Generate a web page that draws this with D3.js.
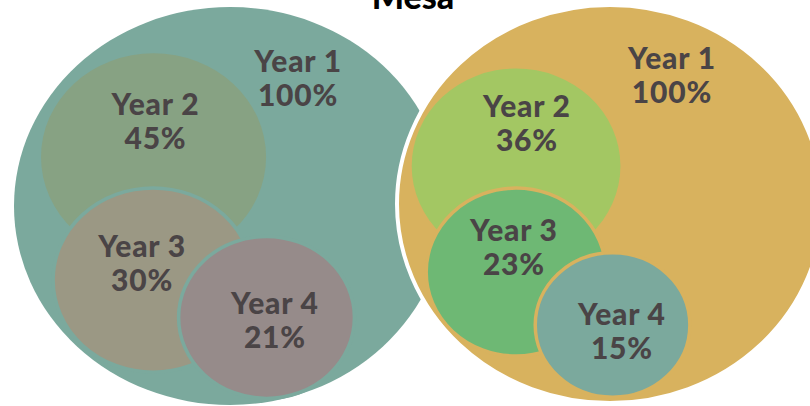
<!DOCTYPE html>
<html>
<head>
<meta charset="utf-8">
<script src="https://cdn.jsdelivr.net/npm/d3@7"></script>
<style>
  body { margin: 0; background: #fff; }
  svg { display: block; }
  text { font-family: Lato, "Open Sans", sans-serif; font-weight: 900; }
</style>
</head>
<body>
<div id="chart"></div>
<script>
const width = 810, height = 406;

// data
const title = "Mesa";
const years = ["Year 1", "Year 2", "Year 3", "Year 4"];
const leftValues = [100, 45, 30, 21];
const rightValues = [100, 36, 23, 15];
const leftColors = ["#7ba99d", "#87a283", "#9b9884", "#968b8a"];
const rightColors = ["#d8b25e", "#a3c763", "#6eb874", "#7ba99d"];

// layout of the bubbles, in units of the outer circle (u, v = center, r = radius)
const leftLayout = [
    { u: 0, v: 0, r: 1, lu: 0.315, lv: -0.673 },
    { u: -0.354, v: -0.246, r: 0.521, lu: -0.345, lv: -0.457 },
    { u: -0.356, v: 0.372, r: 0.463, lu: -0.407, lv: 0.256 },
    { u: 0.169, v: 0.560, r: 0.407, lu: 0.208, lv: 0.543 }
];
const rightLayout = [
    { u: 0, v: 0, r: 1, lu: 0.291, lv: -0.678 },
    { u: -0.441, v: -0.191, r: 0.490, lu: -0.390, lv: -0.437 },
    { u: -0.441, v: 0.342, r: 0.422, lu: -0.451, lv: 0.186 },
    { u: 0.012, v: 0.608, r: 0.363, lu: 0.056, lv: 0.608 }
];

let svg = d3.select("#chart")
    .append("svg")
    .attr("width", width)
    .attr("height", height);

function drawGroup(values, colors, layout, box, outline) {
    // unit scales for this group
    let x = d3.scaleLinear().domain([-1, 1]).range([box.cx - box.rx, box.cx + box.rx]);
    let y = d3.scaleLinear().domain([-1, 1]).range([box.cy - box.ry, box.cy + box.ry]);

    let g = svg.append("g");
    let data = values.map((v, i) => ({ name: years[i], value: v, color: colors[i], ...layout[i] }));

    g.selectAll("ellipse")
        .data(data)
        .enter()
        .append("ellipse")
        .attr("cx", d => x(d.u))
        .attr("cy", d => y(d.v))
        .attr("rx", d => x(d.u + d.r) - x(d.u))
        .attr("ry", d => y(d.v + d.r) - y(d.v))
        .attr("fill", d => d.color)
        .attr("stroke", (d, i) => i == 0 ? outline : colors[0])
        .attr("stroke-width", (d, i) => i == 0 ? (outline == "none" ? 0 : 4) : (i == 1 ? 0 : 3.5));

    let labels = g.selectAll("text.label")
        .data(data)
        .enter()
        .append("text")
        .attr("class", "label")
        .attr("text-anchor", "middle")
        .attr("fill", "#4a4446")
        .style("font-size", "30px")
        .style("letter-spacing", "0.8px");

    labels.append("tspan")
        .attr("x", d => x(d.lu))
        .attr("y", d => y(d.lv))
        .text(d => d.name);
    labels.append("tspan")
        .attr("x", d => x(d.lu))
        .attr("y", d => y(d.lv) + 34)
        .text(d => d.value + "%");
}

drawGroup(leftValues, leftColors, leftLayout, { cx: 230, cy: 206, rx: 216, ry: 199 }, "none");
drawGroup(rightValues, rightColors, rightLayout, { cx: 610, cy: 204, rx: 213, ry: 199 }, "#fff");

// title (cut off at the top, as in the original)
svg.append("text")
    .attr("x", 413)
    .attr("y", 9)
    .attr("text-anchor", "middle")
    .attr("fill", "#000")
    .style("font-size", "34px")
    .text(title);
</script>
</body>
</html>
